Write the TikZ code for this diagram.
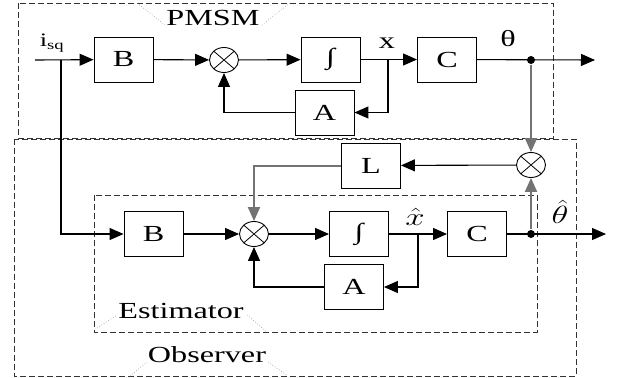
\documentclass[tikz,border=0pt]{standalone}
\usepackage{fontspec}
\setmainfont{Liberation Serif}[FakeStretch=1.4]
\usepackage{graphicx}
\usetikzlibrary{arrows.meta,shapes.geometric}

\newcommand{\wmath}[1]{\scalebox{1.4}[1]{$#1$}}

\begin{document}
\begin{tikzpicture}[x=1pt,y=-1pt,line width=1.1pt,
    >={Triangle[length=14pt,width=12pt]},
    blk/.style={draw,rectangle,line width=0.9pt,minimum width=59pt,minimum height=45pt,
        font=\fontsize{23}{26}\selectfont},
    sumj/.style={draw,ellipse,line width=0.9pt,minimum width=29pt,minimum height=25pt,inner sep=0pt,
        path picture={\draw[line width=0.8pt]
            (path picture bounding box.north west) -- (path picture bounding box.south east)
            (path picture bounding box.south west) -- (path picture bounding box.north east);}},
    frame/.style={draw=black!80,dashed,line width=0.9pt,dash pattern=on 6pt off 3pt},
    tab/.style={draw=black!35,line width=0.7pt,dotted},
    lbl/.style={font=\fontsize{23}{26}\selectfont,inner sep=0pt},
    fb/.style={draw=black!55,line width=2pt},
    dot/.style={circle,fill,inner sep=0pt,minimum size=8pt}]

    \useasboundingbox (0,0) rectangle (622,378);

    % Dashed frames and their tabs
    \draw[frame] (18,3) rectangle (553,138);
    \draw[frame] (14,139) rectangle (576,376);
    \draw[frame] (94,195) rectangle (537,332);
    \draw[tab] (137,3) -- (165,25) (290,3) -- (262,25);
    \draw[tab] (97,328) -- (117,315) (247,315) -- (267,332);
    \draw[tab] (130,376) -- (147,362) (268,362) -- (288,376);
    \node[lbl] (pmsm) at (213,18) {PMSM};
    \node[lbl] (estim) at (181,311) {Estimator};
    \node[lbl] (obsv) at (207,355) {Observer};

    % Plant (top row)
    \node[blk] (B-1) at (123.5,59.5) {B};
    \node[sumj] (S-1) at (224,60) {};
    \node[blk] (I-1) at (330.5,59.5) {∫};
    \node[blk] (C-1) at (447,59.5) {C};
    \node[blk] (A-1) at (324.5,112.5) {A};

    % Estimator (bottom row)
    \node[blk] (B-2) at (153.5,234) {B};
    \node[sumj] (S-2) at (254,234) {};
    \node[blk] (I-2) at (359,234) {∫};
    \node[blk] (C-2) at (477,234) {C};
    \node[blk] (A-2) at (354,287) {A};

    % Observer gain and error junction
    \node[blk] (L) at (371,165.5) {L};
    \node[sumj] (S-3) at (531,165) {};

    % Taps and ends
    \coordinate (in) at (35,60);
    \coordinate (tap-i) at (61,60);
    \coordinate (tap-x) at (388,60);
    \coordinate (tap-xh) at (418,234);
    \node[dot] (th-1) at (531,60) {};
    \node[dot] (th-2) at (531,234) {};
    \coordinate (out-1) at (595,60);
    \coordinate (out-2) at (606,234);

    % Signal labels
    \node[lbl,font=\fontsize{19}{22}\selectfont] (isq) at (52,43) {i\textsubscript{sq}};
    \node[lbl] (xlab) at (387,43) {x};
    \node[lbl] (thlab) at (508,39) {θ};
    \node[lbl] (xhlab) at (415,217) {\wmath{\hat{x}}};
    \node[lbl] (thhlab) at (560,212) {\wmath{\hat{\theta}}};

    % Plant connections
    \draw[->] (in) -- (B-1);
    \draw[->] (B-1) -- (S-1);
    \draw[->] (S-1) -- (I-1);
    \draw[->] (I-1) -- (C-1);
    \draw[->] (tap-x) |- (A-1);
    \draw[->] (A-1) -| (S-1);
    \draw[->] (C-1) -- (out-1);

    % Estimator connections
    \draw[->] (tap-i) |- (B-2);
    \draw[->] (B-2) -- (S-2);
    \draw[->] (S-2) -- (I-2);
    \draw[->] (I-2) -- (C-2);
    \draw[->] (tap-xh) |- (A-2);
    \draw[->] (A-2) -| (S-2);
    \draw[->] (C-2) -- (out-2);

    % Output error feedback through L
    \draw[fb,->] (th-1) -- (S-3);
    \draw[fb,->] (th-2) -- (S-3);
    \draw[->] (S-3) -- (L);
    \draw[fb,->] (L) -| (S-2);

\end{tikzpicture}
\end{document}
